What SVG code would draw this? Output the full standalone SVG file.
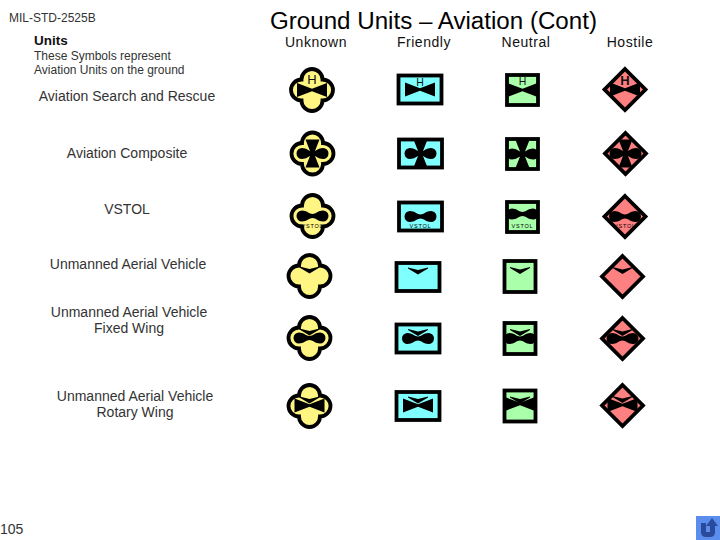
<svg xmlns="http://www.w3.org/2000/svg" xmlns:xlink="http://www.w3.org/1999/xlink" width="720" height="540" viewBox="0 0 720 540">
<style>
text{font-family:"Liberation Sans",Arial,sans-serif;fill:#000}
.title{font-size:24.15px}
.head{font-size:14px;text-anchor:middle;letter-spacing:.55px;fill:#111}
.lab{font-size:14px;text-anchor:middle;fill:#333}
.small{font-size:12px;fill:#333}
.h{font-size:10.5px;text-anchor:middle;fill:#111}
.hb{font-size:13px;text-anchor:middle;fill:#111}
.v{font-size:5.5px;text-anchor:middle;letter-spacing:.8px}
.f{stroke:#000;stroke-width:3.8;stroke-linejoin:miter}
.u{fill:#FFF583}.c{fill:#80FFFF}.n{fill:#AAFFAA}.r{fill:#FF8080}
</style>
<defs>
<path id="qf" d="M-10.5,-10.5A10.5 10.5 0 0 1 10.5,-10.5A10.5 10.5 0 0 1 10.5,10.5A10.5 10.5 0 0 1 -10.5,10.5A10.5 10.5 0 0 1 -10.5,-10.5Z"/>
<path id="dia" d="M0,-20.5L20.5,0L0,20.5L-20.5,0Z"/>
<path id="bow" d="M-15,-7L0,-1.2L15,-7V7L0,1.2L-15,7Z"/>
<path id="lobes" d="M0,-2C-3,-2 -6,-5.5 -10.5,-5.5A5.5 5.5 0 0 0 -10.5,5.5C-6,5.5 -3,2 0,2C3,2 6,5.5 10.5,5.5A5.5 5.5 0 0 0 10.5,-5.5C6,-5.5 3,-2 0,-2Z"/>
<path id="cross" d="M-7,-14H7L1.5,0L7,14H-7L-1.5,0Z"/>
<path id="chev" d="M-10,-9.5L0,-7L10,-9.5V-8.5L0,-2.5L-10,-8.5Z"/>
</defs>

<g id="labels">
<text x="9" y="22" style="font-size:12px;fill:#333">MIL-STD-2525B</text>
<text class="title" x="270" y="29">Ground Units – Aviation (Cont)</text>
<text x="34" y="45" style="font-size:13.5px;font-weight:bold;fill:#111">Units</text>
<text class="head" x="316" y="47">Unknown</text>
<text class="head" x="424" y="47">Friendly</text>
<text class="head" x="526" y="47">Neutral</text>
<text class="head" x="630" y="47">Hostile</text>
<text class="small" x="34" y="60">These Symbols represent</text>
<text class="small" x="34" y="74">Aviation Units on the ground</text>
<text class="lab" x="127" y="101">Aviation Search and Rescue</text>
<text class="lab" x="127" y="158">Aviation Composite</text>
<text class="lab" x="127" y="214">VSTOL</text>
<text class="lab" x="128" y="269">Unmanned Aerial Vehicle</text>
<text class="lab" x="129" y="317">Unmanned Aerial Vehicle</text>
<text class="lab" x="129" y="333">Fixed Wing</text>
<text class="lab" x="135" y="401">Unmanned Aerial Vehicle</text>
<text class="lab" x="135" y="417">Rotary Wing</text>
<text x="0" y="534" style="font-size:14px;fill:#333">105</text>
</g>

<g id="sar-unknown" transform="translate(312,90)"><use href="#qf" class="f u"/><use href="#bow"/><text class="hb" y="-6">H</text></g>
<g id="sar-friendly" transform="translate(420,89.5)"><rect x="-21.5" y="-14" width="43" height="28" class="f c"/><use href="#bow"/><text class="h" y="-3.5">H</text></g>
<g id="sar-neutral" transform="translate(522.5,90)"><rect x="-15.5" y="-15" width="31" height="30" class="f n"/><use href="#bow"/><text class="h" y="-5">H</text></g>
<g id="sar-hostile" transform="translate(625,89.5)"><use href="#dia" class="f r"/><use href="#bow"/><text class="hb" y="-4.5" style="font-weight:bold">H</text></g>

<g id="comp-unknown" transform="translate(312.5,153.5)"><use href="#qf" class="f u"/><use href="#cross"/><use href="#lobes"/></g>
<g id="comp-friendly" transform="translate(420.5,153.5)"><rect x="-21.5" y="-14" width="43" height="28" class="f c"/><use href="#cross"/><use href="#lobes"/></g>
<g id="comp-neutral" transform="translate(522.5,154)"><rect x="-15.5" y="-15" width="31" height="30" class="f n"/><use href="#cross"/><use href="#lobes"/></g>
<g id="comp-hostile" transform="translate(625.5,153.5)"><use href="#dia" class="f r"/><use href="#cross"/><use href="#lobes"/></g>

<g id="vstol-unknown" transform="translate(312.5,216)"><use href="#qf" class="f u"/><use href="#lobes"/><text class="v" y="12">VSTOL</text></g>
<g id="vstol-friendly" transform="translate(420.5,216.5)"><rect x="-21.5" y="-14" width="43" height="28" class="f c"/><use href="#lobes"/><text class="v" y="11">VSTOL</text></g>
<g id="vstol-neutral" transform="translate(522.5,217)"><rect x="-15.5" y="-15" width="31" height="30" class="f n"/><use href="#lobes" transform="translate(0,-3)"/><text class="v" y="11">VSTOL</text></g>
<g id="vstol-hostile" transform="translate(625,216.5)"><use href="#dia" class="f r"/><use href="#lobes"/><text class="v" y="11">VSTOL</text></g>

<g id="uav-unknown" transform="translate(309.5,276)"><use href="#qf" class="f u"/><use href="#chev"/></g>
<g id="uav-friendly" transform="translate(418,277)"><rect x="-21.5" y="-14" width="43" height="28" class="f c"/><use href="#chev"/></g>
<g id="uav-neutral" transform="translate(520,276.5)"><rect x="-15.5" y="-15.5" width="31" height="31" class="f n"/><use href="#chev"/></g>
<g id="uav-hostile" transform="translate(622.5,276.5)"><use href="#dia" class="f r"/><use href="#chev"/></g>

<g id="fw-unknown" transform="translate(309.5,338)"><use href="#qf" class="f u"/><use href="#chev"/><use href="#lobes"/></g>
<g id="fw-friendly" transform="translate(418,338.5)"><rect x="-21.5" y="-14" width="43" height="28" class="f c"/><use href="#chev"/><use href="#lobes"/></g>
<g id="fw-neutral" transform="translate(520,338.5)"><rect x="-15.5" y="-15.5" width="31" height="31" class="f n"/><use href="#chev"/><use href="#lobes"/></g>
<g id="fw-hostile" transform="translate(622.5,338.5)"><use href="#dia" class="f r"/><use href="#chev"/><use href="#lobes"/></g>

<g id="rw-unknown" transform="translate(309.5,406)"><use href="#qf" class="f u"/><use href="#bow" transform="translate(0,-0.5)"/><use href="#chev"/></g>
<g id="rw-friendly" transform="translate(418,406)"><rect x="-21.5" y="-14" width="43" height="28" class="f c"/><use href="#bow" transform="translate(0,-0.5)"/><use href="#chev"/></g>
<g id="rw-neutral" transform="translate(520,406)"><rect x="-15.5" y="-15.5" width="31" height="31" class="f n"/><use href="#bow" transform="translate(0,-2)"/><use href="#chev"/></g>
<g id="rw-hostile" transform="translate(622.5,405.5)"><use href="#dia" class="f r"/><use href="#bow" transform="translate(0,-0.5)"/><use href="#chev"/></g>

<g id="return-button">
<rect x="696" y="516" width="24" height="24" fill="#5B8DEF"/>
<path d="M701,523V532Q701,537 706,537H710Q715,537 715,532V526H718L712,518L706,526H710V532H706V523Z" fill="#2A4B9B"/>
</g>
</svg>
